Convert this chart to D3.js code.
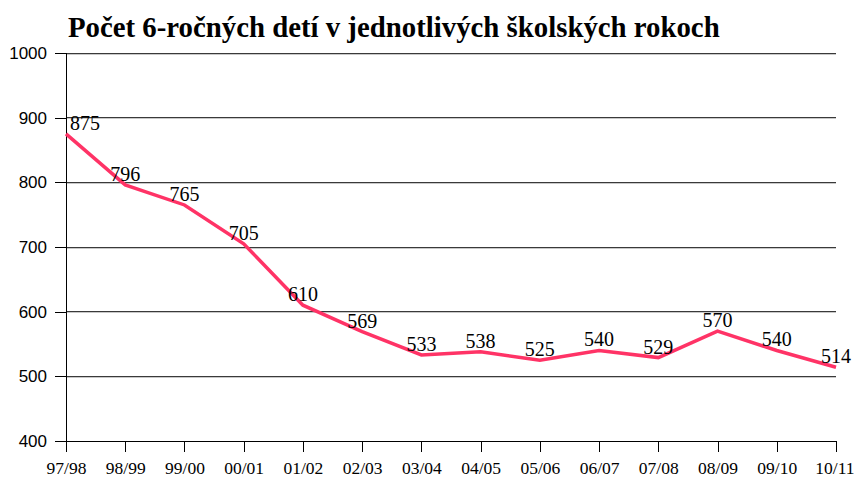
<!DOCTYPE html>
<html><head><meta charset="utf-8">
<script src="https://cdn.jsdelivr.net/npm/d3@7"></script>
<style>body{margin:0;background:#fff}svg{display:block}</style>
</head><body>
<script>
const years = ["97/98","98/99","99/00","00/01","01/02","02/03","03/04","04/05","05/06","06/07","07/08","08/09","09/10","10/11"];
const counts = [875,796,765,705,610,569,533,538,525,540,529,570,540,514];
const yTicks = [400,500,600,700,800,900,1000];
const title = "Počet 6-ročných detí v jednotlivých školských rokoch";

const W = 855, H = 479;
const svg = d3.select("body").append("svg").attr("width", W).attr("height", H);
const x = d3.scalePoint().domain(years).range([66, 836]);
const y = d3.scaleLinear().domain([400, 1000]).range([441, 53]);

svg.append("text").attr("x", 68).attr("y", 37)
  .attr("font-family", "Liberation Serif, Times New Roman, serif")
  .attr("font-weight", "bold").attr("font-size", 28.8).text(title);

// gridlines (with faint shadow)
const gv = yTicks.filter(d => d > 400);
svg.append("g").selectAll("line").data(gv).join("line")
  .attr("x1", 66).attr("x2", 836).attr("y1", d => y(d) + 1).attr("y2", d => y(d) + 1)
  .attr("stroke", "#c8c8c8").attr("stroke-width", 1).attr("shape-rendering", "crispEdges");
svg.append("g").selectAll("line").data(gv).join("line")
  .attr("x1", 66).attr("x2", 836).attr("y1", d => y(d)).attr("y2", d => y(d))
  .attr("stroke", "#3a3a3a").attr("stroke-width", 1).attr("shape-rendering", "crispEdges");

// y axis
const ya = svg.append("g").attr("transform", "translate(66,0)")
  .call(d3.axisLeft(y).tickValues(yTicks).tickFormat(d3.format("d")).tickSize(11).tickPadding(8));
ya.select(".domain").attr("stroke", "#000").attr("shape-rendering", "crispEdges");
ya.selectAll(".tick line").attr("stroke", "#000").attr("shape-rendering", "crispEdges");
ya.selectAll("text").attr("font-family", "Liberation Sans, Arial, sans-serif").attr("font-size", 17).attr("fill", "#000");

// x axis
const xa = svg.append("g").attr("transform", "translate(0,441)")
  .call(d3.axisBottom(x).tickSize(11).tickPadding(10));
xa.select(".domain").attr("stroke", "#000").attr("shape-rendering", "crispEdges");
xa.selectAll(".tick line").attr("stroke", "#000").attr("shape-rendering", "crispEdges");
xa.selectAll("text").attr("font-family", "Liberation Serif, Times New Roman, serif").attr("font-size", 17.5).attr("fill", "#000");
// keep the last label inside the frame
xa.selectAll(".tick").filter(d => d === years[years.length - 1]).select("text")
  .attr("text-anchor", "end").attr("x", W - 1 - x(years[years.length - 1]));

// line
const line = d3.line().x((d, i) => x(years[i])).y(d => y(d));
svg.append("path").datum(counts).attr("d", line)
  .attr("fill", "none").attr("stroke", "#ff3366").attr("stroke-width", 3.5).attr("stroke-linejoin", "miter");

// labels
svg.append("g").selectAll("text").data(counts).join("text")
  .attr("x", (d, i) => i === 0 ? x(years[i]) + 19 : x(years[i]))
  .attr("y", d => y(d) - 4)
  .attr("text-anchor", "middle")
  .attr("font-family", "Liberation Serif, Times New Roman, serif")
  .attr("font-size", 20).attr("fill", "#000").text(d => d);
</script>
</body></html>
